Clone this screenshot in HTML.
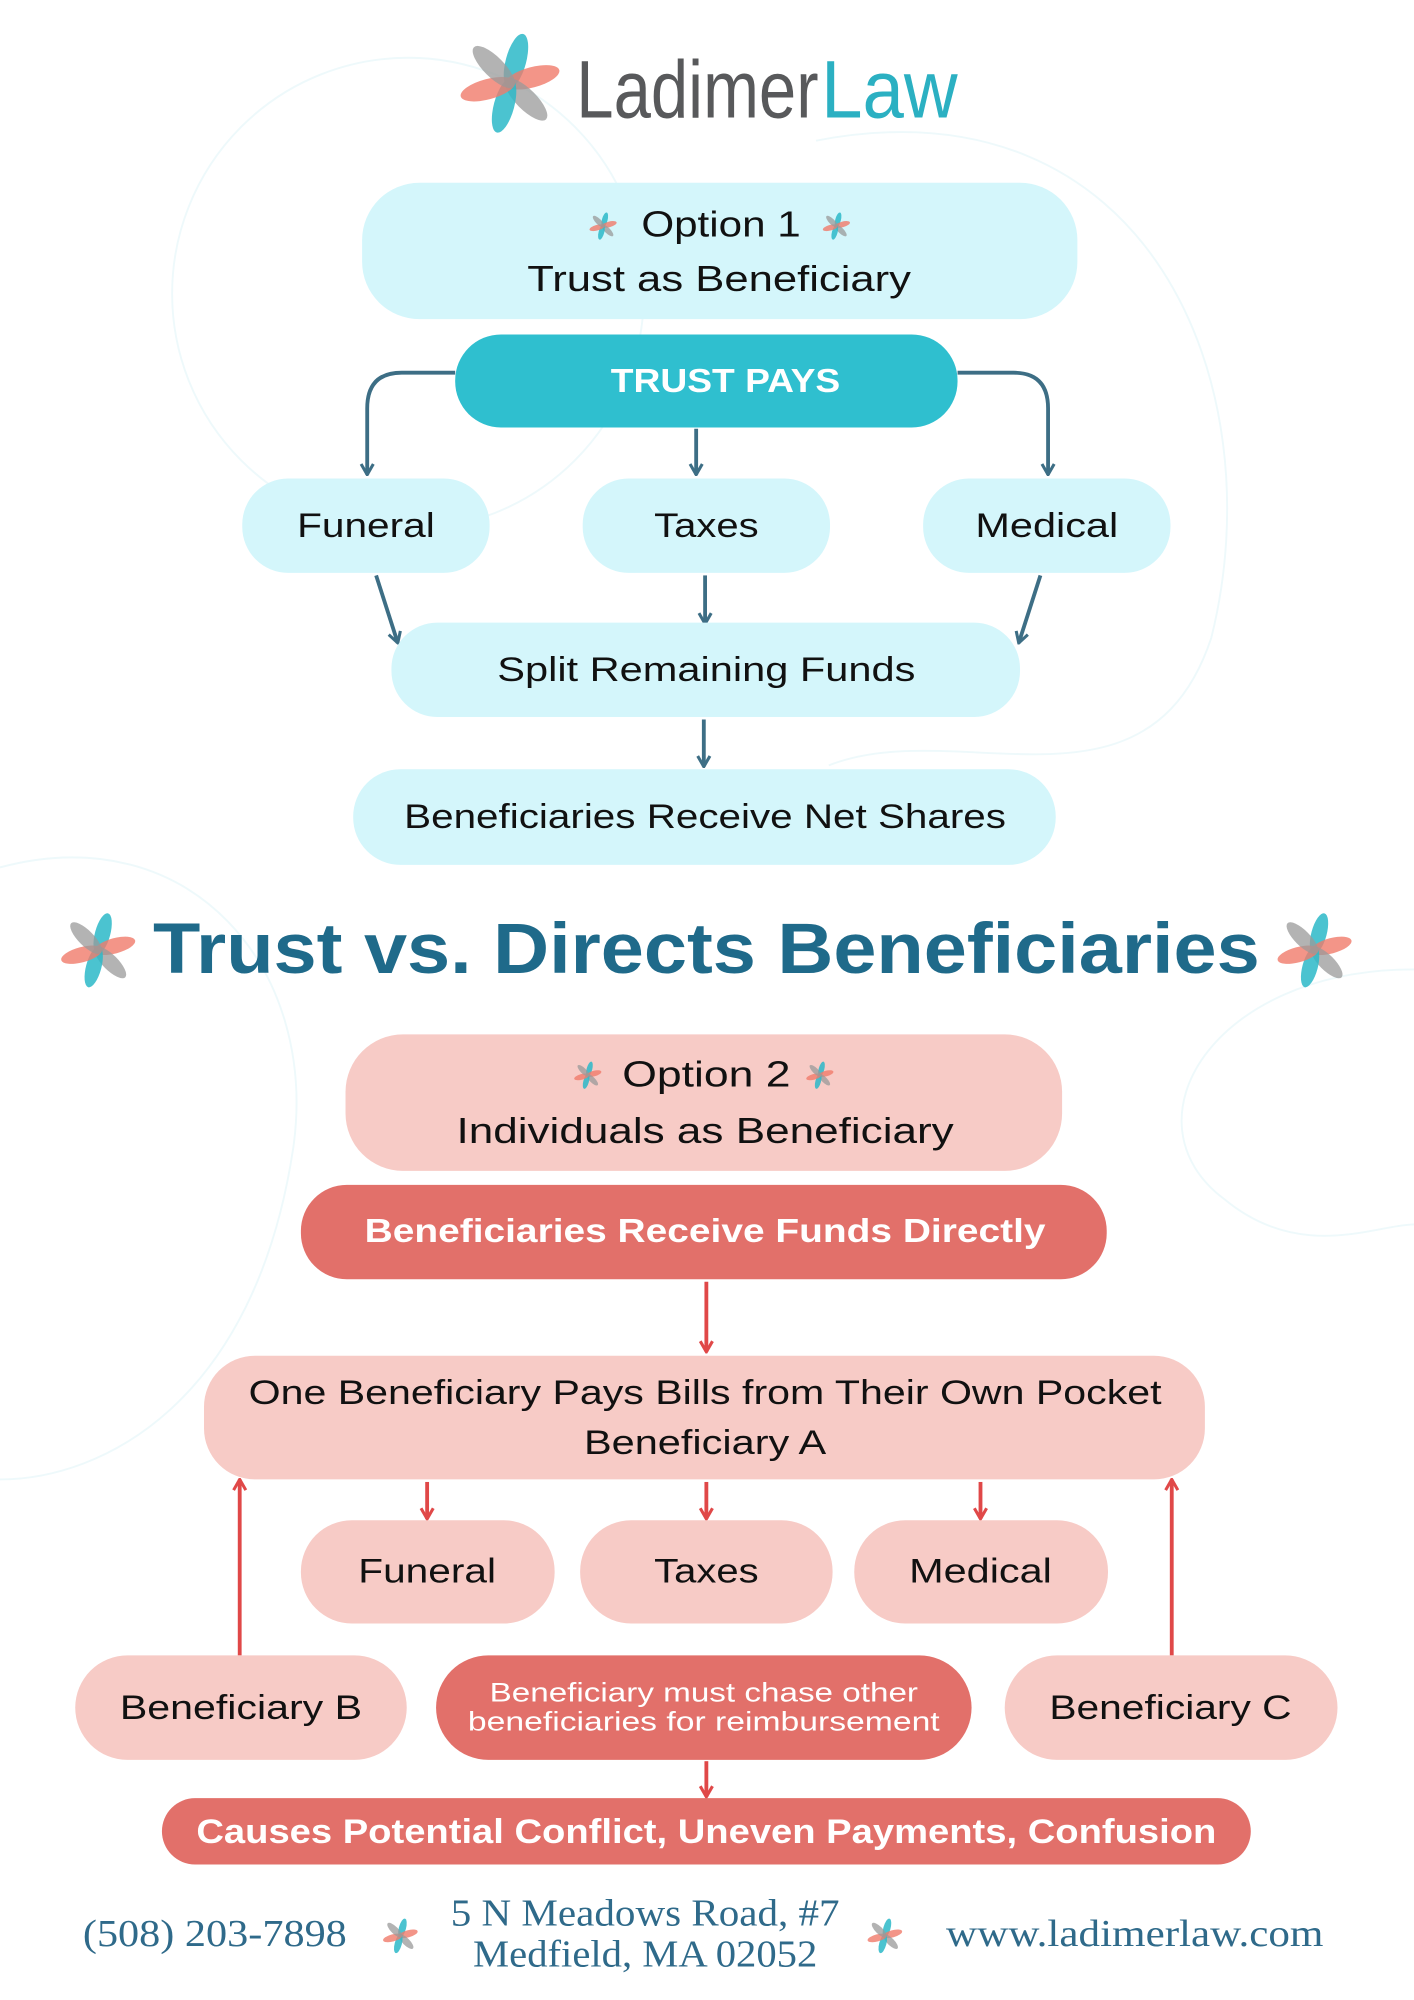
<!DOCTYPE html>
<html><head><meta charset="utf-8"><style>
html,body{margin:0;padding:0;background:#fff;}
svg{display:block;}
.s{font-family:"Liberation Sans",sans-serif;}
.f{font-family:"Liberation Serif",serif;}
</style></head><body>
<svg width="1414" height="2000" viewBox="0 0 1109 1568" xmlns="http://www.w3.org/2000/svg">
<defs>
<g id="star">
  <ellipse cx="0" cy="-9" rx="4" ry="11" fill="#2bb8c8" opacity="0.85" transform="rotate(15)"/>
  <ellipse cx="0" cy="-9" rx="4" ry="11" fill="#f07a6a" opacity="0.8" transform="rotate(75)"/>
  <ellipse cx="0" cy="-9" rx="4" ry="11" fill="#999" opacity="0.75" transform="rotate(135)"/>
  <ellipse cx="0" cy="-9" rx="4" ry="11" fill="#2bb8c8" opacity="0.85" transform="rotate(195)"/>
  <ellipse cx="0" cy="-9" rx="4" ry="11" fill="#f07a6a" opacity="0.8" transform="rotate(255)"/>
  <ellipse cx="0" cy="-9" rx="4" ry="11" fill="#999" opacity="0.75" transform="rotate(315)"/>
</g>
<marker id="ab" viewBox="0 0 10 10" refX="9" refY="5" markerWidth="4" markerHeight="4" orient="auto"><path d="M2,1 L9,5 L2,9" fill="none" stroke="#3d6e85" stroke-width="2"/></marker>
<marker id="ar" viewBox="0 0 10 10" refX="9" refY="5" markerWidth="4" markerHeight="4" orient="auto"><path d="M2,1 L9,5 L2,9" fill="none" stroke="#e04848" stroke-width="2"/></marker>
</defs>

<g fill="none" stroke="#eef9fb" stroke-width="1.5">
<circle cx="320" cy="230" r="185"/>
<path d="M640 110 C900 60 1000 300 950 500 C900 650 750 560 650 600"/>
<path d="M0 680 C150 640 250 760 230 900 C200 1100 80 1160 0 1160"/>
<path d="M1109 760 C950 760 880 880 960 940 C1020 990 1080 960 1109 960"/>
</g>

<g transform="translate(400,65) scale(2.0)"><use href="#star"/></g>
<text class="s" x="452" y="92" font-size="64" fill="#58595b" textLength="190" lengthAdjust="spacingAndGlyphs">Ladimer</text>
<text class="s" x="644" y="92" font-size="64" fill="#2bb0c2" textLength="107" lengthAdjust="spacingAndGlyphs">Law</text>

<rect x="284" y="143" width="561" height="107" rx="45" fill="#d4f6fb"/>
<g transform="translate(473,177) scale(0.55)"><use href="#star"/></g>
<g transform="translate(656,177) scale(0.55)"><use href="#star"/></g>
<text class="s" x="503" y="185" font-size="28" fill="#111" textLength="125" lengthAdjust="spacingAndGlyphs">Option 1</text>
<text class="s" x="564" y="228" font-size="28" fill="#111" text-anchor="middle" textLength="301" lengthAdjust="spacingAndGlyphs">Trust as Beneficiary</text>

<rect x="357" y="262" width="394" height="73" rx="36" fill="#2fbfcf"/>
<text class="s" x="569" y="307" font-size="26" font-weight="bold" fill="#fff" text-anchor="middle" textLength="180" lengthAdjust="spacingAndGlyphs">TRUST PAYS</text>

<g fill="none" stroke="#3d6e85" stroke-width="3">
<path d="M357 292 H315 Q288 292 288 320 V372" marker-end="url(#ab)"/>
<path d="M751 292 H795 Q822 292 822 320 V372" marker-end="url(#ab)"/>
<path d="M546 336 V372" marker-end="url(#ab)"/>
<path d="M295 451 L312 504" marker-end="url(#ab)"/>
<path d="M553 451 V489" marker-end="url(#ab)"/>
<path d="M816 451 L799 504" marker-end="url(#ab)"/>
<path d="M552 564 V601" marker-end="url(#ab)"/>
</g>

<rect x="190" y="375" width="194" height="74" rx="36" fill="#d4f6fb"/>
<rect x="457" y="375" width="194" height="74" rx="36" fill="#d4f6fb"/>
<rect x="724" y="375" width="194" height="74" rx="36" fill="#d4f6fb"/>
<text class="s" x="287" y="421" font-size="27" fill="#111" text-anchor="middle" textLength="108" lengthAdjust="spacingAndGlyphs">Funeral</text>
<text class="s" x="554" y="421" font-size="27" fill="#111" text-anchor="middle" textLength="82" lengthAdjust="spacingAndGlyphs">Taxes</text>
<text class="s" x="821" y="421" font-size="27" fill="#111" text-anchor="middle" textLength="112" lengthAdjust="spacingAndGlyphs">Medical</text>

<rect x="307" y="488" width="493" height="74" rx="36" fill="#d4f6fb"/>
<text class="s" x="554" y="534" font-size="27" fill="#111" text-anchor="middle" textLength="328" lengthAdjust="spacingAndGlyphs">Split Remaining Funds</text>

<rect x="277" y="603" width="551" height="75" rx="37" fill="#d4f6fb"/>
<text class="s" x="553" y="649" font-size="27" fill="#111" text-anchor="middle" textLength="472" lengthAdjust="spacingAndGlyphs">Beneficiaries Receive Net Shares</text>

<g transform="translate(77,745) scale(1.5)"><use href="#star"/></g>
<g transform="translate(1031,745) scale(1.5)"><use href="#star"/></g>
<text class="s" x="554" y="763" font-size="56" font-weight="bold" fill="#1f6a8a" text-anchor="middle" textLength="868" lengthAdjust="spacingAndGlyphs">Trust vs. Directs Beneficiaries</text>

<rect x="271" y="811" width="562" height="107" rx="45" fill="#f7cbc6"/>
<g transform="translate(461,843) scale(0.55)"><use href="#star"/></g>
<g transform="translate(643,843) scale(0.55)"><use href="#star"/></g>
<text class="s" x="488" y="852" font-size="28" fill="#111" textLength="132" lengthAdjust="spacingAndGlyphs">Option 2</text>
<text class="s" x="553" y="896" font-size="28" fill="#111" text-anchor="middle" textLength="390" lengthAdjust="spacingAndGlyphs">Individuals as Beneficiary</text>

<rect x="236" y="929" width="632" height="74" rx="36" fill="#e2706a"/>
<text class="s" x="553" y="974" font-size="26" font-weight="bold" fill="#fff" text-anchor="middle" textLength="534" lengthAdjust="spacingAndGlyphs">Beneficiaries Receive Funds Directly</text>

<g fill="none" stroke="#e04848" stroke-width="3">
<path d="M554 1005 V1060" marker-end="url(#ar)"/>
<path d="M335 1162 V1191" marker-end="url(#ar)"/>
<path d="M554 1162 V1191" marker-end="url(#ar)"/>
<path d="M769 1162 V1191" marker-end="url(#ar)"/>
<path d="M188 1298 V1160" marker-end="url(#ar)"/>
<path d="M919 1298 V1160" marker-end="url(#ar)"/>
<path d="M554 1381 V1409" marker-end="url(#ar)"/>
</g>

<rect x="160" y="1063" width="785" height="97" rx="40" fill="#f7cbc6"/>
<text class="s" x="553" y="1101" font-size="27" fill="#111" text-anchor="middle" textLength="716" lengthAdjust="spacingAndGlyphs">One Beneficiary Pays Bills from Their Own Pocket</text>
<text class="s" x="553" y="1140" font-size="27" fill="#111" text-anchor="middle" textLength="190" lengthAdjust="spacingAndGlyphs">Beneficiary A</text>

<rect x="236" y="1192" width="199" height="81" rx="40" fill="#f7cbc6"/>
<rect x="455" y="1192" width="198" height="81" rx="40" fill="#f7cbc6"/>
<rect x="670" y="1192" width="199" height="81" rx="40" fill="#f7cbc6"/>
<text class="s" x="335" y="1241" font-size="27" fill="#111" text-anchor="middle" textLength="108" lengthAdjust="spacingAndGlyphs">Funeral</text>
<text class="s" x="554" y="1241" font-size="27" fill="#111" text-anchor="middle" textLength="82" lengthAdjust="spacingAndGlyphs">Taxes</text>
<text class="s" x="769" y="1241" font-size="27" fill="#111" text-anchor="middle" textLength="112" lengthAdjust="spacingAndGlyphs">Medical</text>

<rect x="59" y="1298" width="260" height="82" rx="41" fill="#f7cbc6"/>
<rect x="342" y="1298" width="420" height="82" rx="41" fill="#e2706a"/>
<rect x="788" y="1298" width="261" height="82" rx="41" fill="#f7cbc6"/>
<text class="s" x="189" y="1348" font-size="27" fill="#111" text-anchor="middle" textLength="190" lengthAdjust="spacingAndGlyphs">Beneficiary B</text>
<text class="s" x="918" y="1348" font-size="27" fill="#111" text-anchor="middle" textLength="190" lengthAdjust="spacingAndGlyphs">Beneficiary C</text>
<text class="s" x="552" y="1334" font-size="21" fill="#fff" text-anchor="middle" textLength="336" lengthAdjust="spacingAndGlyphs">Beneficiary must chase other</text>
<text class="s" x="552" y="1357" font-size="21" fill="#fff" text-anchor="middle" textLength="370" lengthAdjust="spacingAndGlyphs">beneficiaries for reimbursement</text>

<rect x="127" y="1410" width="854" height="52" rx="26" fill="#e2706a"/>
<text class="s" x="554" y="1445" font-size="27" font-weight="bold" fill="#fff" text-anchor="middle" textLength="800" lengthAdjust="spacingAndGlyphs">Causes Potential Conflict, Uneven Payments, Confusion</text>

<g fill="#2f6a8a" font-size="30">
<text class="f" x="65" y="1526" textLength="207" lengthAdjust="spacingAndGlyphs">(508) 203-7898</text>
<text class="f" x="506" y="1510" text-anchor="middle" textLength="305" lengthAdjust="spacingAndGlyphs">5 N Meadows Road, #7</text>
<text class="f" x="506" y="1542" text-anchor="middle" textLength="270" lengthAdjust="spacingAndGlyphs">Medfield, MA 02052</text>
<text class="f" x="742" y="1526" textLength="296" lengthAdjust="spacingAndGlyphs">www.ladimerlaw.com</text>
</g>
<g transform="translate(314,1518) scale(0.7)"><use href="#star"/></g>
<g transform="translate(694,1518) scale(0.7)"><use href="#star"/></g>
</svg>
</body></html>
